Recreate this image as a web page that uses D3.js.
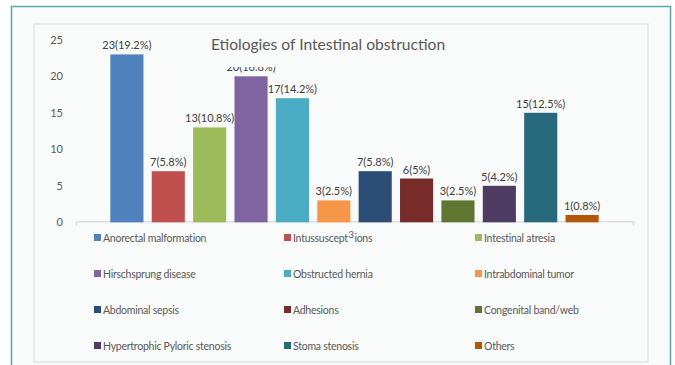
<!DOCTYPE html>
<html>
<head>
<meta charset="utf-8">
<script src="https://cdn.jsdelivr.net/npm/d3@7"></script>
<style>
  html, body { margin: 0; padding: 0; background: #ffffff; }
  svg { display: block; }
  text { font-family: Lato, "Open Sans", sans-serif; }
</style>
</head>
<body>
<svg id="chart" width="675" height="365"></svg>
<script>
// Etiologies of intestinal obstruction: count and share of cases
const categories = [
  "Anorectal malformation", "Intussusceptions", "Intestinal atresia",
  "Hirschsprung disease", "Obstructed hernia", "Intrabdominal tumor",
  "Abdominal sepsis", "Adhesions", "Congenital band/web",
  "Hypertrophic Pyloric stenosis", "Stoma stenosis", "Others"
];
const counts = [23, 7, 13, 20, 17, 3, 7, 6, 3, 5, 15, 1];
const percents = ["19.2", "5.8", "10.8", "16.8", "14.2", "2.5", "5.8", "5", "2.5", "4.2", "12.5", "0.8"];
const colors = [
  "#4F81BD", "#C0504D", "#9BBB59", "#8064A2", "#4BACC6", "#F79646",
  "#2C4D75", "#772C2A", "#5F7530", "#4D3B62", "#276A7C", "#B65708"
];
const yTicks = [0, 5, 10, 15, 20, 25];

const svg = d3.select("#chart");
const bg = "#f9fbfb";

// outer frame and inner chart panel
svg.append("rect").attr("x", 11.5).attr("y", 6.5).attr("width", 659).attr("height", 370)
  .attr("fill", bg).attr("stroke", "#5aa8a5").attr("stroke-width", 1.5);
svg.append("rect").attr("x", 34).attr("y", 24).attr("width", 614).attr("height", 338)
  .attr("fill", bg).attr("stroke", "#e3e5e5").attr("stroke-width", 1.5);

const plot = { left: 76, right: 633, top: 39.8, bottom: 222.3 };

const x = d3.scaleBand()
  .domain(categories)
  .range([plot.left, plot.right])
  .paddingInner(0.2)
  .paddingOuter(0.83);

const y = d3.scaleLinear().domain([0, 25]).range([plot.bottom, plot.top]);

// y axis labels (no axis line, no gridlines)
const yAxis = d3.axisLeft(y).tickValues(yTicks).tickSize(0).tickPadding(0);
const yg = svg.append("g").attr("transform", `translate(63,0)`).call(yAxis);
yg.select(".domain").remove();
yg.selectAll("text")
  .attr("fill", "#595959")
  .style("font-size", "11px")
  .style("font-family", "Lato, 'Open Sans', sans-serif");

// category baseline with end ticks
const xAxis = d3.axisBottom(d3.scaleLinear().domain([0, 1]).range([plot.left, plot.right]))
  .tickValues([0, 1]).tickSize(4).tickFormat("");
const xg = svg.append("g").attr("transform", `translate(0,${plot.bottom - 1})`).call(xAxis);
xg.selectAll("path, line").attr("stroke", "#d9d9d9").attr("stroke-width", 1.3);

const data = categories.map((c, i) => ({ c, v: counts[i], p: percents[i], color: colors[i] }));

// bars
svg.append("g").selectAll("rect").data(data).join("rect")
  .attr("x", d => x(d.c))
  .attr("y", d => y(d.v))
  .attr("width", x.bandwidth())
  .attr("height", d => y(0) - y(d.v))
  .attr("fill", d => d.color);

// value labels
svg.append("g").selectAll("text").data(data).join("text")
  .attr("x", d => x(d.c) + x.bandwidth() / 2)
  .attr("y", d => y(d.v) - 5)
  .attr("text-anchor", "middle")
  .attr("fill", "#404040")
  .style("font-size", "11px")
  .text(d => `${d.v}(${d.p}%)`);

// title sits on its own box, which overlaps the tallest nearby label
svg.append("rect").attr("x", 205).attr("y", 30).attr("width", 245).attr("height", 37).attr("fill", bg);
svg.append("text")
  .attr("x", 328).attr("y", 50)
  .attr("text-anchor", "middle")
  .attr("fill", "#595959")
  .style("font-size", "15.6px")
  .text("Etiologies of Intestinal obstruction");

// legend: three columns, four rows
const colX = [94, 284, 475];
const rowY = [238, 274, 310, 346];
const lg = svg.append("g").selectAll("g").data(data).join("g")
  .attr("transform", (d, i) => `translate(${colX[i % 3]},${rowY[Math.floor(i / 3)]})`);
lg.append("rect").attr("x", 0).attr("y", -4).attr("width", 7).attr("height", 7).attr("fill", d => d.color);
const lt = lg.append("text").attr("x", 9).attr("y", 3.6)
  .attr("fill", "#595959")
  .style("font-size", "10.5px")
  .style("letter-spacing", "-0.25px");

// the second entry carries a raised "3" that splits the word
lt.each(function (d) {
  const t = d3.select(this);
  if (d.c === "Intussusceptions") {
    t.append("tspan").text("Intussuscept");
    t.append("tspan").attr("dx", 0.5).attr("dy", -3.5).style("font-size", "10px").text("3");
    t.append("tspan").attr("dx", 0.5).attr("dy", 3.5).text("ions");
  } else {
    t.text(d.c);
  }
});
</script>
</body>
</html>
